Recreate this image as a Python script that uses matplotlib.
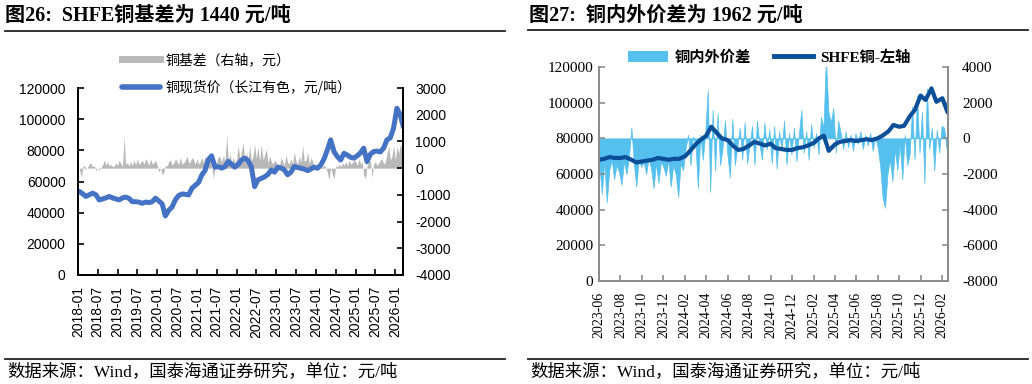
import matplotlib
matplotlib.use('Agg')
import pandas as pd
from matplotlib import pyplot as plt
from matplotlib import dates as mdates
from matplotlib.lines import Line2D
from matplotlib.patches import Patch

plt.rcParams['font.family'] = ['Liberation Sans', 'Noto Sans CJK SC']
plt.rcParams['axes.unicode_minus'] = False

W, H = 1032, 384
SERIF_CJK = ['Liberation Serif', 'Noto Sans CJK SC']

# ---- fig 26: Yangtze spot copper (元/吨, monthly) and SHFE basis (元, half-monthly)
spot_price = [
    53600, 52000, 50400, 51500, 52500, 51500, 48200, 48800, 49500, 50400, 49500, 48800,
    48200, 49500, 50000, 49200, 47100, 47000, 46800, 46000, 46800, 46500, 47000, 49300,
    47500, 45600, 37900, 41500, 43500, 48200, 51000, 52000, 51800, 51400, 55700, 57500,
    59400, 64300, 67000, 74000, 76500, 69200, 69500, 68600, 69500, 72900, 71000, 69200,
    71000, 73800, 75000, 73500, 69600, 56700, 61000, 62000, 63000, 64500, 67400, 66000,
    69200, 68500, 67500, 64300, 66000, 69600, 69000, 68500, 67900, 67000, 68000, 69200,
    68500, 70700, 74500, 80300, 86700, 79200, 76000, 73800, 78100, 77000, 75500, 75000,
    76500, 78500, 81400, 72700, 77500, 79200, 79500, 79000, 81500, 86700, 88000, 94200,
    107000, 102700, 95000,
]
basis = [
    150, -50, -350, 50, 100, -50, 50, 150, 200, 50, 100, -100,
    50, -80, 30, 120, 300, 100, 250, 80, 150, 50, 80, 200,
    100, 300, 150, 60, 1200, 150, 200, 80, 250, 100, 300, 120,
    350, 150, 200, 300, 150, 350, 250, 100, 350, 150, 200, 300,
    100, -150, 50, -250, -150, 100, 80, 250, 300, 120, 200, 350,
    250, 120, 400, 150, 200, 300, 450, 200, 250, 400, 300, 150,
    350, 150, 250, 400, 200, 450, 150, 350, 300, 100, -400, 100,
    250, 400, 450, 200, 500, 200, 1250, 300, 500, 200, 400, 200,
    350, 850, 300, 650, 950, 250, 600, 300, 850, 250, 450, 900,
    350, 800, 250, 900, 300, 500, 700, 200, 450, 250, 150, 300,
    200, 100, 150, 400, 250, 100, 500, 200, 150, 350, 150, 600,
    250, 150, 450, 200, 850, 250, 300, 600, 150, 400, 250, 100,
    100, 50, 150, 30, 50, 100, 30, -150, -450, 50, -250, -400,
    100, 30, 150, 50, 200, 100, 250, 80, 300, 150, 200, 300,
    250, 100, 350, 150, 250, -250, -400, 100, 200, 300, -350, 150,
    250, 100, 200, 300, 350, 150, 250, 550, 800, 300, 450, 850,
    300, 800, 550, 900, 700, 1440,
]

# ---- fig 27: SHFE copper (元/吨, half-monthly) and domestic-overseas gap (元/吨, weekly)
shfe_copper = [
    68000, 68500, 69500, 69000, 69000, 69500, 68000, 66500, 67000, 67500, 68000, 69000,
    68500, 68000, 68500, 68500, 70000, 73000, 76500, 79000, 81500, 86500, 83000, 80000,
    79000, 76000, 73500, 74000, 76000, 78000, 77000, 76000, 77000, 74500, 74000, 73500,
    73500, 74500, 75000, 76000, 77500, 80000, 81500, 73000, 76500, 78000, 78500, 79000,
    78500, 79000, 79500, 79000, 80000, 81500, 84000, 87500, 86500, 87000, 92500, 96000,
    104000, 101500, 108000, 100500, 102500, 95000,
]
price_gap = [
    -1500, -3100, -1300, -3600, -1800,
    -1200, -2300, -1500, -1900,
    -2600, -1300, -2000, -1100,
    600, -1400, -2700, -1200, -1600,
    -1300, -2000, -1100, -1700,
    -2800, -1400, -2500, -1300,
    -1600, -2100, -1200, -2700, -1500,
    -2000, -3300, -1400, -1800,
    -600, 200, -1500, 100,
    -300, -2800, 200, -1200, 300,
    2700, -3000, 1600, -1800,
    1400, -1500, -600, 1000, -900,
    -2200, 1100, -1500, -500,
    600, -1200, 900, -1400,
    -400, 700, -1500, 1000, -300,
    -1200, 900, -600, 500,
    -1400, 700, -1700, 400,
    -700, 1000, -1500, 300, -900,
    600, -1300, 200, 1600,
    -800, 400, -1200, 800, -500,
    300, -900, 1200, 600,
    4500, 1500, 900, 1700,
    -800, 1000, 300, -600,
    400, -500, 200, -700, 300,
    -300, 400, -600, 200,
    -400, 300, -700, 100,
    -500, -1500, -3300, -3900, -2000,
    -1200, -2400, -600, -1800,
    -300, -2300, 200, -1500, -900,
    1800, -1200, 2400, -800,
    1500, -2500, 2800, -600,
    600, -1800, 500, -800, 700,
    600, -600,
]

spot_dates = pd.date_range('2018-01-01', periods=len(spot_price), freq='MS') + pd.Timedelta(days=14)
basis_dates = pd.date_range('2018-01-01', periods=len(basis), freq='SMS')
shfe_dates = pd.date_range('2023-06-01', periods=len(shfe_copper), freq='SMS')
gap_dates = pd.date_range('2023-06-02', periods=len(price_gap), freq='7D')

fig = plt.figure(figsize=(W / 100, H / 100), dpi=100)


def fig_line(x0, x1, y):
    fig.add_artist(Line2D([x0 / W, x1 / W], [1 - y / H, 1 - y / H],
                          transform=fig.transFigure, color='#222222', lw=1.3))


# titles, rules and footers
fig.text(5 / W, 1 - 16 / H, '图26:  SHFE铜基差为 1440 元/吨', family=SERIF_CJK,
         weight='bold', fontsize=14.5, va='center', ha='left')
fig.text(529 / W, 1 - 16 / H, '图27:  铜内外价差为 1962 元/吨', family=SERIF_CJK,
         weight='bold', fontsize=14.5, va='center', ha='left')
fig_line(5, 505, 31)
fig_line(528, 1028, 30)
fig_line(5, 505, 359)
fig_line(528, 1028, 359)
fig.text(7 / W, 1 - 372 / H, '数据来源：Wind，国泰海通证券研究，单位：元/吨', family=SERIF_CJK,
         fontsize=12.5, va='center', ha='left')
fig.text(530 / W, 1 - 372 / H, '数据来源：Wind，国泰海通证券研究，单位：元/吨', family=SERIF_CJK,
         fontsize=12.5, va='center', ha='left')

# ---- left chart
ax1 = fig.add_axes([78 / W, 1 - 275 / H, 325 / W, 187 / H])
ax1r = ax1.twinx()
ax1r.fill_between(basis_dates, 0, basis, color='#b8b8b8', lw=0)
ax1.plot(spot_dates, spot_price, color='#4472c4', lw=3.6, solid_capstyle='round',
         solid_joinstyle='round')
ax1.set_zorder(ax1r.get_zorder() + 1)
ax1.patch.set_visible(False)

ax1.set_xlim(pd.Timestamp('2018-01-01'), pd.Timestamp('2026-03-12'))
ax1.set_ylim(0, 120000)
ax1.set_yticks(range(0, 120001, 20000))
ax1r.set_ylim(-4000, 3000)
ax1r.set_yticks(range(-4000, 3001, 1000))
ax1.xaxis.set_major_locator(mdates.MonthLocator(bymonth=[1, 7]))
ax1.xaxis.set_major_formatter(mdates.DateFormatter('%Y-%m'))
for a in (ax1, ax1r):
    a.spines['top'].set_visible(False)
    for s in ('left', 'right', 'bottom'):
        a.spines[s].set_linewidth(1.3)
        a.spines[s].set_color('black')
ax1.tick_params(axis='both', direction='in', length=4, width=1.2, labelsize=10)
ax1.tick_params(axis='y', pad=9)
ax1.tick_params(axis='x', pad=8, labelrotation=90)
ax1r.tick_params(axis='y', direction='in', length=4, width=1.2, labelsize=10, pad=9)

leg1 = fig.legend(
    [Line2D([], [], color='#b8b8b8', lw=5),
     Line2D([], [], color='#4472c4', lw=4, solid_capstyle='round')],
    ['铜基差（右轴，元）', '铜现货价（长江有色，元/吨）'],
    loc='upper left', bbox_to_anchor=(122 / W, 1 - 53 / H), frameon=False,
    prop={'family': ['Noto Sans CJK SC'], 'size': 10},
    handlelength=2.7, handletextpad=0.45, labelspacing=0.95, borderpad=0, borderaxespad=0)

# ---- right chart
GREY = '#8c8c8c'
ax2 = fig.add_axes([599 / W, 1 - 281 / H, 349 / W, 214 / H])
ax2r = ax2.twinx()
ax2r.fill_between(gap_dates, 0, price_gap, color='#55c0ee', lw=0.5)
ax2.plot(shfe_dates, shfe_copper, color='#0a4f98', lw=3)
ax2.set_zorder(ax2r.get_zorder() + 1)
ax2.patch.set_visible(False)

ax2.set_xlim(pd.Timestamp('2023-06-01'), pd.Timestamp('2026-02-17'))
ax2.set_ylim(0, 120000)
ax2.set_yticks(range(0, 120001, 20000))
ax2r.set_ylim(-8000, 4000)
ax2r.set_yticks(range(-8000, 4001, 2000))
ax2.xaxis.set_major_locator(mdates.MonthLocator(bymonth=[2, 4, 6, 8, 10, 12]))
ax2.xaxis.set_major_formatter(mdates.DateFormatter('%Y-%m'))
for a in (ax2, ax2r):
    a.spines['top'].set_visible(False)
    for s in ('left', 'right', 'bottom'):
        a.spines[s].set_linewidth(1.3)
        a.spines[s].set_color(GREY)
ax2.tick_params(axis='both', direction='in', length=4, width=1.2, color=GREY)
ax2.tick_params(axis='y', pad=4, labelsize=11)
ax2.tick_params(axis='x', pad=8, labelrotation=90, labelsize=10)
ax2r.tick_params(axis='y', direction='in', length=4, width=1.2, color=GREY, labelsize=11, pad=10)
for lab in ax2.get_xticklabels() + ax2.get_yticklabels() + ax2r.get_yticklabels():
    lab.set_family('Liberation Serif')

leg2 = fig.legend(
    [Patch(facecolor='#55c0ee', edgecolor='none'),
     Line2D([], [], color='#0a4f98', lw=3.5)],
    ['铜内外价差', 'SHFE铜-左轴'],
    loc='upper left', bbox_to_anchor=(628 / W, 1 - 50 / H), frameon=False, ncol=2,
    prop={'family': SERIF_CJK, 'size': 11, 'weight': 'bold'},
    handlelength=2.6, handletextpad=0.45, columnspacing=1.5, borderpad=0, borderaxespad=0)

fig.savefig('out.png', dpi=100)
